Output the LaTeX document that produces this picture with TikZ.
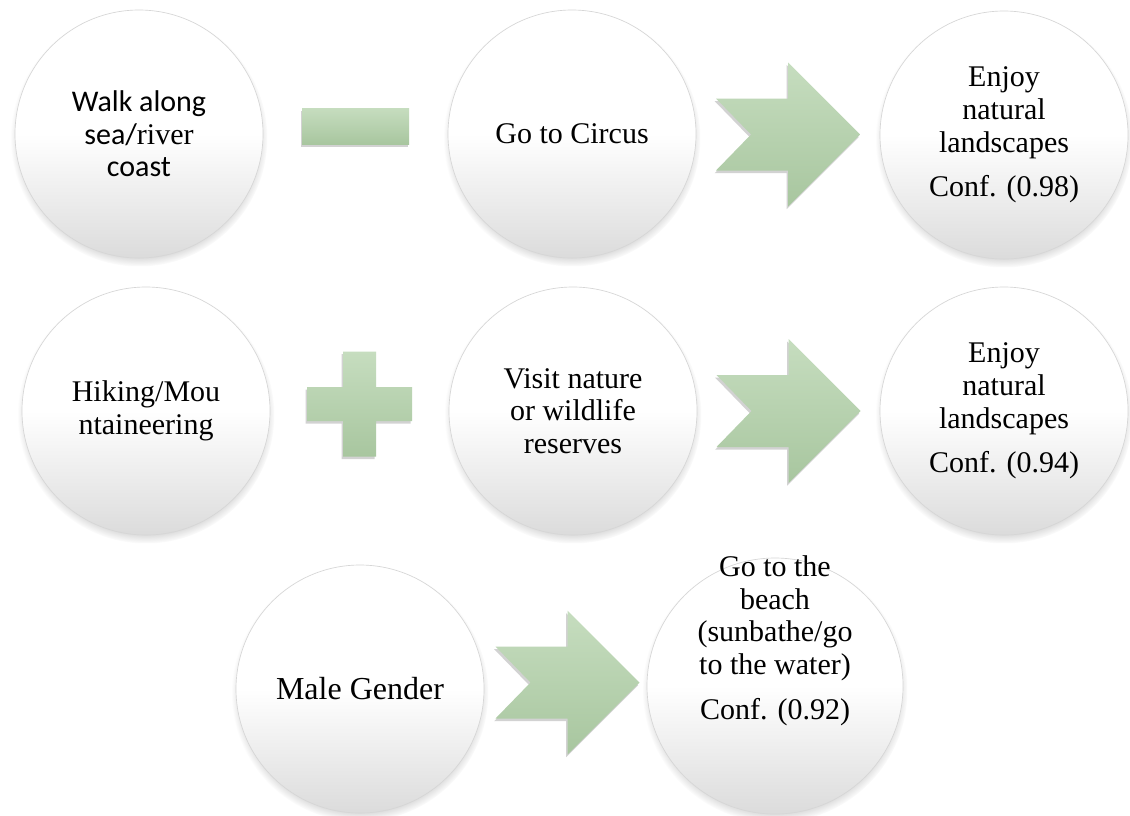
\documentclass[tikz,border=0pt]{standalone}
\usepackage{fontspec}
\setmainfont{Liberation Serif}
\newfontfamily\calibri{Carlito}
\usepackage{xcolor}
\definecolor{gtop}{HTML}{C6DDBF}
\definecolor{gbot}{HTML}{A8C69F}
\definecolor{rim}{HTML}{D6D6D6}
\usepackage{tikz}
\usetikzlibrary{calc,shadows}
% notched arrow, given its centre
\newcommand{\chevron}[1]{%
  \path[sign] #1 ++(-72,-36) -- ++(72,0) -- ++(0,-36) -- ++(72,72) -- ++(-72,72)
    -- ++(0,-36) -- ++(-72,0) -- ++(35,-36) -- cycle;}

\begin{document}
\begin{tikzpicture}[
  x=0.75pt, y=-0.75pt,
  bubble/.style={circle, draw=rim, line width=0.5pt, top color=white, bottom color=black!14,
    middle color=white, minimum size=186pt, inner sep=0pt, align=center,
    font=\fontsize{22.5}{24.5}\selectfont,
    circular drop shadow={shadow xshift=0pt, shadow yshift=-3pt, shadow scale=1.035, opacity=.55}},
  txt/.style={align=center, font=\fontsize{22.5}{24.5}\selectfont},
  sign/.style={top color=gtop, bottom color=gbot,
    drop shadow={shadow xshift=-1pt, shadow yshift=-2pt, opacity=.35}},
]
  \path[use as bounding box, fill=white] (0,0) rectangle (1130,815);

  % first rule
  \node[bubble] (walk) at (139,134) {{\calibri Walk along}\\{\calibri sea/}river\\{\calibri coast}};
  \node[bubble] (circus) at (572,134) {Go to Circus};
  \node[bubble] (enjoyA) at (1004,135) {Enjoy\\natural\\landscapes\\[9pt]Conf. (0.98)};

  % second rule
  \node[bubble] (hiking) at (146,411) {Hiking/Mou\\ntaineering};
  \node[bubble] (visit) at (573,411) {Visit nature\\or wildlife\\reserves};
  \node[bubble] (enjoyB) at (1004,411) {Enjoy\\natural\\landscapes\\[9pt]Conf. (0.94)};

  % third rule
  \node[bubble, font=\fontsize{24}{26}\selectfont] (male) at (360,689) {Male Gender};
  \node[bubble, minimum size=192pt] (beach) at (775,686) {};
  \node[txt, yshift=34pt] (beachtxt) at (beach) {Go to the\\beach\\(sunbathe/go\\to the water)\\[9pt]Conf. (0.92)};

  % signs
  \path[sign] ($(walk)!0.5!(circus)+(0,-8)$) ++(-53.5,-18) rectangle ++(107,36);
  \chevron{($(circus)!0.5!(enjoyA)$)}
  \path[sign] ($(hiking)!0.5!(visit)+(0,-7)$) ++(-16.5,-52.5) -- ++(33,0) -- ++(0,35.5)
    -- ++(36,0) -- ++(0,34) -- ++(-36,0) -- ++(0,35.5) -- ++(-33,0) -- ++(0,-35.5)
    -- ++(-36,0) -- ++(0,-34) -- ++(36,0) -- cycle;
  \chevron{($(visit)!0.5!(enjoyB)$)}
  \chevron{($(male)!0.5!(beach)+(0,-5)$)}
\end{tikzpicture}
\end{document}
